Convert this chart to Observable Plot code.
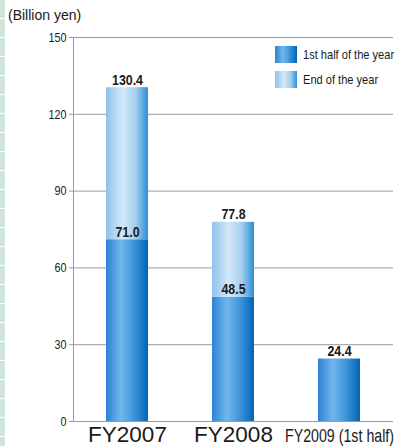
<!DOCTYPE html>
<html>
<head>
<meta charset="utf-8">
<script src="https://cdn.jsdelivr.net/npm/d3@7"></script>
<script src="https://cdn.jsdelivr.net/npm/@observablehq/plot@0.6"></script>
<style>
  html, body { margin: 0; padding: 0; background: #fff; }
  #wrap { position: relative; width: 397px; height: 446px; overflow: hidden; }
  #strip { position: absolute; left: 0; top: 0; width: 5px; height: 446px;
    background: repeating-linear-gradient(to bottom, #cfe5d8 0px, #cfe5d8 18px, #ffffff 18px, #ffffff 19px); }
  #unit { position: absolute; left: 8px; top: 7px; font: 14px "Liberation Sans", Arial, sans-serif; color: #1a1a1a; }
  .leg { position: absolute; left: 275px; font: 13.5px "Liberation Sans", Arial, sans-serif; color: #1a1a1a; white-space: nowrap; }
  .leg span.sw { position: absolute; left: 0; top: 0; width: 22px; height: 17px; }
  .leg span.tx { position: absolute; left: 28px; top: 0px; line-height: 17px; transform: scaleX(0.82); transform-origin: 0 0; }
  #plot { position: absolute; left: 0; top: 0; }
</style>
</head>
<body>
<div id="wrap">
  <div id="plot"></div>
  <div id="strip"></div>
  <div id="unit">(Billion yen)</div>
  <div class="leg" style="top:46px"><span class="sw" style="background:linear-gradient(to right,#2b82d6 0%,#72b6ea 35%,#4a9ce0 60%,#0065b5 100%)"></span><span class="tx" id="leg1"></span></div>
  <div class="leg" style="top:71px"><span class="sw" style="background:linear-gradient(to right,#8cc3ee 0%,#d4e9f8 40%,#a6cfef 70%,#2c8ed6 100%)"></span><span class="tx" id="leg2"></span></div>
</div>
<script>
const categories = ["FY2007", "FY2008", "FY2009 (1st half)"];
const firstHalf = [71.0, 48.5, 24.4];
const fullYear = [130.4, 77.8, null];
const seriesNames = ["1st half of the year", "End of the year"];
const yTicks = [0, 30, 60, 90, 120, 150];

document.getElementById("leg1").textContent = seriesNames[0];
document.getElementById("leg2").textContent = seriesNames[1];

const rows = categories.map((c, i) => ({cat: c, h1: firstHalf[i], fy: fullYear[i]}));
const topRows = rows.filter(d => d.fy != null);
const labels = [
  ...rows.map(d => ({cat: d.cat, v: d.h1})),
  ...topRows.map(d => ({cat: d.cat, v: d.fy}))
];

const font = '"Liberation Sans", Arial, sans-serif';

const chart = Plot.plot({
  width: 397,
  height: 446,
  marginLeft: 73,
  marginRight: 4,
  marginTop: 37,
  marginBottom: 25,
  style: {fontFamily: font, color: "#1a1a1a", background: "transparent", overflow: "visible"},
  x: {domain: categories, paddingInner: 0.6, paddingOuter: 0.3, axis: null},
  y: {domain: [0, 150], axis: null},
  marks: [
    Plot.gridY(yTicks, {stroke: "#9a9a9a", strokeOpacity: 1, strokeWidth: 1}),
    Plot.frame({anchor: "left", stroke: "#9a9a9a"}),
    Plot.barY(rows, {x: "cat", y1: 0, y2: "h1", fill: "url(#gradH1)"}),
    Plot.barY(topRows, {x: "cat", y1: "h1", y2: "fy", fill: "url(#gradFY)"}),
    Plot.text(labels, {x: "cat", y: "v", text: d => d.v.toFixed(1), lineAnchor: "bottom", dy: -3, fontSize: 15.5, fontWeight: "bold", fill: "#1a1a1a"}),
    Plot.axisY({ticks: yTicks, tickSize: 4, tickPadding: 3, stroke: "#9a9a9a", fontSize: 13.5, label: null, fill: "#1a1a1a"}),
    Plot.text(categories, {x: d => d, frameAnchor: "bottom", lineAnchor: "bottom", dy: 20, text: d => d,
      fontSize: d => d.includes("(") ? 17.8 : 22.5, fill: "#1a1a1a"})
  ]
});

document.getElementById("plot").appendChild(chart);

const svg = d3.select(chart);
const defs = svg.insert("defs", ":first-child");
function grad(id, stops) {
  const g = defs.append("linearGradient").attr("id", id).attr("x1", "0").attr("x2", "1").attr("y1", "0").attr("y2", "0");
  stops.forEach(([o, c]) => g.append("stop").attr("offset", o).attr("stop-color", c));
}
grad("gradH1", [[0, "#2b82d6"], [0.35, "#72b6ea"], [0.6, "#4a9ce0"], [1, "#0065b5"]]);
grad("gradFY", [[0, "#8cc3ee"], [0.4, "#d4e9f8"], [0.7, "#a6cfef"], [1, "#2c8ed6"]]);

// condensed look: compress glyph widths of all texts except the big FY2007/FY2008 labels
svg.selectAll("text").each(function() {
  const t = this.textContent;
  if (t === "FY2007" || t === "FY2008") return;
  const len = this.getComputedTextLength();
  if (len > 0) {
    this.setAttribute("textLength", (len * 0.8).toFixed(2));
    this.setAttribute("lengthAdjust", "spacingAndGlyphs");
  }
});
</script>
</body>
</html>
